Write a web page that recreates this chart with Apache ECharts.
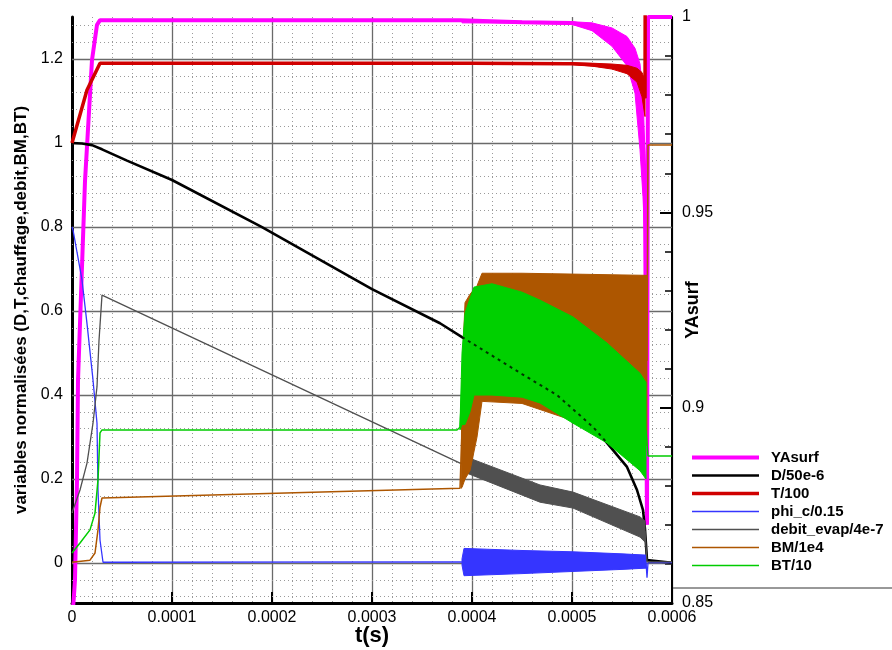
<!DOCTYPE html>
<html>
<head>
<meta charset="utf-8">
<script src="https://cdn.jsdelivr.net/npm/echarts@6/dist/echarts.min.js"></script>
<style>
html,body{margin:0;padding:0;background:#fff;}
#chart{width:892px;height:650px;}
</style>
</head>
<body>
<div id="chart"></div>
<script>
// ---------------- DATA ----------------
const xTicks = [0, 0.0001, 0.0002, 0.0003, 0.0004, 0.0005, 0.0006];
const leftTicks = [0, 0.2, 0.4, 0.6, 0.8, 1, 1.2];
const rightTicks = [0.85, 0.9, 0.95, 1];
const seriesNames = ['YAsurf', 'D/50e-6', 'T/100', 'phi_c/0.15', 'debit_evap/4e-7', 'BM/1e4', 'BT/10'];

// YAsurf (right axis)
const tYA_pre = [0, 0.000002, 0.000003, 0.000005, 0.000006, 0.000013, 0.00002, 0.000025, 0.000028, 0.0002, 0.000388];
const vYA_pre = [0.845, 0.852, 0.856, 0.8815, 0.907, 0.958, 0.989, 0.998, 0.9992, 0.9992, 0.9992];
const tYA_band = [0.00039, 0.00045, 0.0005, 0.00052, 0.00054, 0.000555, 0.000563, 0.000568, 0.000571, 0.000573];
const loYA_band = [0.9985, 0.9984, 0.9981, 0.9965, 0.9925, 0.9875, 0.9805, 0.9660, 0.9540, 0.9420];
const hiYA_band = [0.9989, 0.9989, 0.9988, 0.9985, 0.9972, 0.9950, 0.9920, 0.9880, 0.9800, 0.9650];
const tYA_post = [0.000575, 0.000576, 0.0006];
const vYA_post = [0.87, 1.0, 1.0];

// D/50e-6
const tD = [0, 0.00001, 0.00002, 0.00003, 0.000055, 0.0001, 0.00019, 0.0003, 0.000368, 0.00039, 0.00045, 0.000485, 0.000521, 0.000535, 0.000555, 0.000565, 0.000571, 0.000573, 0.000575, 0.0006];
const vD = [1.0, 0.999, 0.995, 0.985, 0.958, 0.912, 0.8, 0.652, 0.571, 0.538, 0.45, 0.40, 0.324, 0.286, 0.229, 0.174, 0.126, 0.08, 0.007, 0.001];

// T/100
const tT_pre = [0, 0.000015, 0.000028, 0.0002, 0.0004, 0.000495];
const vT_pre = [1.0, 1.126, 1.19, 1.19, 1.19, 1.189];
const tT_band = [0.0005, 0.00052, 0.00054, 0.000555, 0.000565, 0.00057, 0.000573];
const loT_band = [1.187, 1.183, 1.176, 1.165, 1.145, 1.11, 1.063];
const hiT_band = [1.191, 1.190, 1.188, 1.185, 1.178, 1.168, 1.15];
const tT_post = [0.0005732, 0.0006];
const vT_post = [1.36, 1.36];

// phi_c/0.15
const tPhi_pre = [0, 0.000001, 0.000005, 0.00001, 0.000015, 0.000021, 0.000025, 0.000026, 0.000028, 0.000031, 0.00004, 0.000388];
const vPhi_pre = [0.8, 0.793, 0.74, 0.674, 0.57, 0.436, 0.333, 0.174, 0.055, 0.002, 0.002, 0.003];
const tPhi_band = [0.00039, 0.000392, 0.00045, 0.0005, 0.00055, 0.000574];
const loPhi_band = [-0.005, -0.03, -0.025, -0.02, -0.015, -0.012];
const hiPhi_band = [0.01, 0.035, 0.03, 0.027, 0.022, 0.019];
const tPhi_post = [0.000575, 0.000576, 0.0006];
const vPhi_post = [-0.035, 0.001, 0.001];

// debit_evap/4e-7
const tDe_pre = [0, 0.000008, 0.000015, 0.000021, 0.000025, 0.000027, 0.00003, 0.0002, 0.000388];
const vDe_pre = [0.12, 0.174, 0.238, 0.333, 0.42, 0.53, 0.638, 0.448, 0.238];
const tDe_band = [0.00039, 0.000393, 0.000395, 0.000468, 0.000501, 0.000568, 0.000573];
const loDe_band = [0.235, 0.215, 0.214, 0.145, 0.131, 0.062, 0.05];
const hiDe_band = [0.24, 0.257, 0.252, 0.186, 0.169, 0.11, 0.10];
const tDe_post = [0.000575, 0.000576, 0.0006];
const vDe_post = [0.003, 0.003, 0.003];

// BM/1e4
const tBM_pre = [0, 0.000018, 0.000023, 0.000026, 0.000028, 0.00003, 0.000388];
const vBM_pre = [0.002, 0.007, 0.024, 0.079, 0.133, 0.155, 0.178];
const tBM_band = [0.000389, 0.00039, 0.000393, 0.000398, 0.000405, 0.00041, 0.00045, 0.0005, 0.00055, 0.000575];
const loBM_band = [0.178, 0.18, 0.20, 0.22, 0.30, 0.385, 0.38, 0.34, 0.30, 0.28];
const hiBM_band = [0.178, 0.45, 0.62, 0.64, 0.66, 0.69, 0.69, 0.688, 0.686, 0.685];
const tBM_post = [0.000576, 0.0006];
const vBM_post = [0.995, 0.995];

// BT/10
const tBT_pre = [0, 0.000008, 0.000018, 0.000023, 0.000026, 0.000028, 0.00003, 0.000385];
const vBT_pre = [0.024, 0.048, 0.079, 0.119, 0.198, 0.31, 0.317, 0.317];
const tBT_band = [0.000388, 0.00039, 0.000393, 0.000398, 0.000402, 0.00042, 0.00045, 0.000468, 0.000501, 0.000535, 0.000568, 0.000574];
const loBT_band = [0.317, 0.33, 0.33, 0.36, 0.40, 0.40, 0.395, 0.381, 0.333, 0.286, 0.22, 0.20];
const hiBT_band = [0.33, 0.5, 0.595, 0.63, 0.657, 0.665, 0.645, 0.626, 0.586, 0.524, 0.452, 0.43];
const tBT_post = [0.000576, 0.0006];
const vBT_post = [0.255, 0.255];

// ---------------- STYLE ----------------
const FONT = "'Liberation Sans', Arial, Helvetica, sans-serif";
const colors = {
  YA: '#ff00ff', D: '#000000', T: '#d00000', phi: '#3535ff',
  De: '#505050', BM: '#ad5600', BT: '#00cc00'
};

function pairs(t, v) { return t.map((x, i) => [x, v[i]]); }
function lineData(tPre, vPre, tB, lo, hi, tPost, vPost) {
  const mid = tB.map((x, i) => [x, (lo[i] + hi[i]) / 2]);
  return pairs(tPre, vPre).concat(mid, pairs(tPost, vPost));
}
function lineSeries(name, data, color, width, yAxisIndex, z) {
  return {
    type: 'line', name: name, data: data, yAxisIndex: yAxisIndex || 0, z: z,
    symbol: 'none', showSymbol: false, silent: true, clip: true,
    lineStyle: { color: color, width: width }, itemStyle: { color: color },
    emphasis: { disabled: true }
  };
}
function bandSeries(name, t, lo, hi, color, yAxisIndex, z) {
  const data = t.map((x, i) => [x, lo[i], hi[i]]);
  return {
    type: 'custom', name: name, yAxisIndex: yAxisIndex || 0, silent: true, clip: true, z: z,
    data: data, encode: { x: 0, y: [1, 2] },
    renderItem: function (params, api) {
      if (params.dataIndex !== 0) return null;
      const pts = [];
      for (let i = 0; i < data.length; i++) pts.push(api.coord([data[i][0], data[i][2]]));
      for (let i = data.length - 1; i >= 0; i--) pts.push(api.coord([data[i][0], data[i][1]]));
      return { type: 'polygon', shape: { points: pts },
        style: { fill: color, stroke: color, lineWidth: 1 } };
    }
  };
}

// horizontal grid lines on the left scale (major every 0.2, dotted minor every 0.04)
const gridMajor = leftTicks.map(v => ({ yAxis: v, lineStyle: { type: 'solid', color: '#6a6a6a', width: 1.3 } }));
const gridMinor = [];
for (let k = -2; k <= 32; k++) {
  if (k % 5 === 0) continue;
  gridMinor.push({ yAxis: +(k * 0.04).toFixed(2), lineStyle: { type: [1, 3], color: '#9a9a9a', width: 1 } });
}

// part of D that shows through the green oscillation band (drawn as a broken line on top)
const dThrough = pairs(tD, vD).filter(p => p[0] >= 0.000388 && p[0] <= 0.000536);

const series = [
  {
    type: 'line', name: 'grid', data: [[0, -1]], yAxisIndex: 0, symbol: 'none', silent: true, z: 1,
    lineStyle: { width: 0 },
    markLine: {
      silent: true, symbol: ['none', 'none'], z: 1, animation: false,
      label: { show: false }, emphasis: { disabled: true },
      data: gridMinor.concat(gridMajor)
    }
  },
  lineSeries('YAsurf', lineData(tYA_pre, vYA_pre, tYA_band, loYA_band, hiYA_band, tYA_post, vYA_post), colors.YA, 4, 1, 2),
  bandSeries('YAsurf_band', tYA_band, loYA_band, hiYA_band, colors.YA, 1, 3),
  lineSeries('D/50e-6', pairs(tD, vD), colors.D, 2.6, 0, 4),
  lineSeries('T/100', lineData(tT_pre, vT_pre, tT_band, loT_band, hiT_band, tT_post, vT_post), colors.T, 3.5, 0, 5),
  bandSeries('T_band', tT_band, loT_band, hiT_band, colors.T, 0, 6),
  lineSeries('phi_c/0.15', lineData(tPhi_pre, vPhi_pre, tPhi_band, loPhi_band, hiPhi_band, tPhi_post, vPhi_post), colors.phi, 1.3, 0, 7),
  bandSeries('phi_band', tPhi_band, loPhi_band, hiPhi_band, colors.phi, 0, 8),
  lineSeries('debit_evap/4e-7', lineData(tDe_pre, vDe_pre, tDe_band, loDe_band, hiDe_band, tDe_post, vDe_post), colors.De, 1.3, 0, 9),
  bandSeries('debit_band', tDe_band, loDe_band, hiDe_band, colors.De, 0, 10),
  lineSeries('BM/1e4', lineData(tBM_pre, vBM_pre, tBM_band, loBM_band, hiBM_band, tBM_post, vBM_post), colors.BM, 1.5, 0, 11),
  bandSeries('BM_band', tBM_band, loBM_band, hiBM_band, colors.BM, 0, 12),
  lineSeries('BT/10', lineData(tBT_pre, vBT_pre, tBT_band, loBT_band, hiBT_band, tBT_post, vBT_post), colors.BT, 1.5, 0, 13),
  bandSeries('BT_band', tBT_band, loBT_band, hiBT_band, '#00d000', 0, 14),
  {
    type: 'line', name: 'D_through', data: dThrough, yAxisIndex: 0, z: 15,
    symbol: 'none', silent: true, clip: true, emphasis: { disabled: true },
    lineStyle: { color: '#000', width: 2, type: [3, 4], opacity: 0.75 }
  }
];

const option = {
  animation: false,
  backgroundColor: '#ffffff',
  textStyle: { fontFamily: FONT },
  grid: { left: 72, right: 220, top: 17, bottom: 47, containLabel: false, outerBoundsMode: 'none' },
  legend: {
    data: seriesNames,
    orient: 'vertical', left: 690, top: 450, padding: 0,
    itemWidth: 67, itemHeight: 14, itemGap: 3,
    selectedMode: false,
    lineStyle: { width: 'inherit' },
    itemStyle: { color: 'rgba(0,0,0,0)', borderColor: 'rgba(0,0,0,0)', borderWidth: 0, opacity: 0 },
    textStyle: { fontFamily: FONT, fontSize: 15, fontWeight: 'bold', color: '#000', padding: [0, 0, 0, 7] }
  },
  xAxis: {
    type: 'value', min: 0, max: 0.0006, interval: 0.0001,
    name: 't(s)', nameLocation: 'middle', nameGap: 22, nameMoveOverlap: false,
    nameTextStyle: { fontFamily: FONT, fontSize: 22, fontWeight: 'bold', color: '#000' },
    axisLine: { show: true, onZero: false, lineStyle: { color: '#000', width: 3 } },
    axisTick: { show: true, inside: true, length: 11, lineStyle: { color: '#000', width: 2 } },
    axisLabel: {
      fontFamily: FONT, fontSize: 16, color: '#000', margin: 7,
      formatter: v => (Math.abs(v) < 1e-12 ? '0' : v.toFixed(4))
    },
    splitLine: { show: true, lineStyle: { color: '#6a6a6a', width: 1.3 } },
    minorTick: { show: false, splitNumber: 5 },
    minorSplitLine: { show: true, lineStyle: { color: '#9a9a9a', width: 1, type: [1, 3] } }
  },
  yAxis: [
    {
      type: 'value', position: 'left', min: -0.095, max: 1.3,
      name: 'variables normalisées (D,T,chauffage,debit,BM,BT)',
      nameLocation: 'middle', nameGap: 42, nameRotate: 90, nameMoveOverlap: false,
      nameTextStyle: { fontFamily: FONT, fontSize: 17, fontWeight: 'bold', color: '#000' },
      axisLine: { show: true, onZero: false, lineStyle: { color: '#000', width: 3 } },
      axisTick: { show: false },
      axisLabel: {
        fontFamily: FONT, fontSize: 16, color: '#000', margin: 9,
        customValues: leftTicks,
        formatter: v => String(+v.toFixed(2))
      },
      splitLine: { show: false }
    },
    {
      type: 'value', position: 'right', min: 0.85, max: 1, interval: 0.05,
      name: 'YAsurf', nameLocation: 'middle', nameGap: 12, nameRotate: 90, nameMoveOverlap: false,
      nameTextStyle: { fontFamily: FONT, fontSize: 18, fontWeight: 'bold', color: '#000' },
      axisLine: { show: true, onZero: false, lineStyle: { color: '#000', width: 2 } },
      axisTick: { show: true, inside: true, length: 12, lineStyle: { color: '#000', width: 2 } },
      minorTick: { show: true, splitNumber: 5, length: 7, lineStyle: { color: '#000', width: 1.5 } },
      axisLabel: {
        fontFamily: FONT, fontSize: 16, color: '#000', margin: 10,
        formatter: v => String(+v.toFixed(2))
      },
      splitLine: { show: false }
    }
  ],
  graphic: [
    { type: 'line', shape: { x1: 672, y1: 588, x2: 892, y2: 588 }, style: { stroke: '#333', lineWidth: 1 }, silent: true }
  ],
  series: series
};

const chart = echarts.init(document.getElementById('chart'), null, { renderer: 'canvas' });
chart.setOption(option);
</script>
</body>
</html>
